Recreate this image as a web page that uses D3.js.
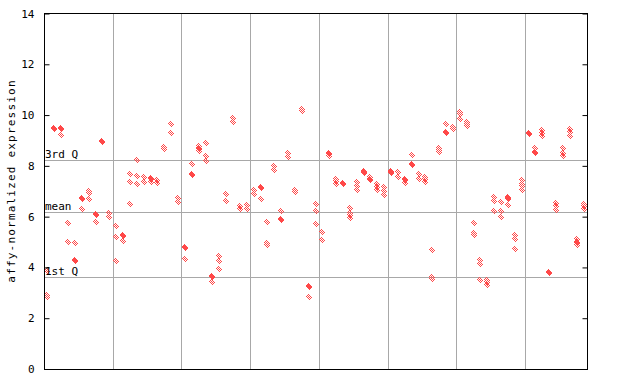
<!DOCTYPE html>
<html><head><meta charset="utf-8">
<script src="https://cdn.jsdelivr.net/npm/d3@7"></script>
<style>body{margin:0;background:#fff}svg text{font-family:"DejaVu Sans Mono",monospace}</style>
</head><body><svg id="c" width="640" height="384"></svg>
<script>
const yTicks = [0, 2, 4, 6, 8, 10, 12, 14];
const groupSizes = [10, 10, 10, 10, 10, 10, 10, 9];
const refLines = [{label: "3rd Q", v: 8.23}, {label: "mean", v: 6.2}, {label: "1st Q", v: 3.62}];
const samples = [
  [3.87, 2.90, 2.82], [9.51, 9.47], [9.51, 9.45, 9.22], [5.75, 5.00], [4.96, 4.30, 4.26],
  [6.75, 6.71, 6.30], [7.02, 6.93, 6.69], [6.09, 6.05, 5.79], [8.98, 8.94], [6.14, 5.98],
  [5.63, 5.19, 4.26], [5.26, 5.22, 5.04], [7.67, 7.36, 6.49], [8.22, 7.62, 7.29], [7.58, 7.38],
  [7.54, 7.50, 7.36], [7.45, 7.32], [8.76, 8.66], [9.64, 9.29], [6.73, 6.57],
  [4.80, 4.76, 4.33], [8.07, 7.67, 7.63], [8.79, 8.70, 8.66, 8.59], [8.89, 8.37, 8.20], [3.67, 3.63, 3.42],
  [4.46, 4.25, 3.94], [6.89, 6.61], [9.88, 9.71], [6.43, 6.30], [6.47, 6.30],
  [7.06, 6.89], [7.15, 7.11, 6.71], [5.78, 4.95, 4.87], [8.00, 7.82], [6.24, 5.92, 5.88],
  [8.50, 8.34], [7.03, 6.99], [10.22, 10.17], [3.28, 3.24, 2.83], [6.49, 6.22, 5.71],
  [5.39, 5.08], [8.50, 8.45, 8.40], [7.50, 7.40, 7.28], [7.31, 7.27], [6.34, 6.14, 6.05, 5.94],
  [7.36, 7.20, 7.06], [7.80, 7.74, 7.70], [7.55, 7.49, 7.45], [7.29, 7.18, 7.06], [7.15, 7.00, 6.86],
  [7.80, 7.76, 7.70], [7.74, 7.56], [7.50, 7.46, 7.32], [8.42, 8.09, 8.03], [7.67, 7.49],
  [7.56, 7.50, 7.38], [4.68, 3.62, 3.54], [8.70, 8.64, 8.56], [9.64, 9.33, 9.29], [9.52, 9.45],
  [10.11, 10.04, 9.84], [9.74, 9.65, 9.55], [5.75, 5.35, 5.26], [4.30, 4.14, 3.51], [3.51, 3.42, 3.32],
  [6.79, 6.60, 6.22], [6.57, 6.22, 5.98], [6.79, 6.75, 6.71, 6.45], [5.28, 5.12, 4.72], [7.45, 7.29, 7.19, 7.06],
  [9.28, 9.24], [8.72, 8.56, 8.52], [9.42, 9.30, 9.19], [3.82, 3.78], [6.53, 6.40, 6.27],
  [8.70, 8.50, 8.39], [9.46, 9.33, 9.19], [5.10, 5.00, 4.96, 4.90], [6.50, 6.40, 6.30]
];

const svg = d3.select("#c");
const L = 44, R = 587, T = 13, B = 369;
const nSamples = d3.sum(groupSizes);
const x = d3.scaleLinear().domain([0, nSamples]).range([L, R]);
const y = d3.scaleLinear().domain([0, 14]).range([B, T + 0.5]);

const defs = svg.append("defs");
const pat = defs.append("pattern").attr("id", "chk").attr("patternUnits", "userSpaceOnUse")
  .attr("width", 2).attr("height", 2);
pat.append("rect").attr("x", 0).attr("y", 0).attr("width", 1).attr("height", 1).attr("fill", "#ff4848");
pat.append("rect").attr("x", 1).attr("y", 1).attr("width", 1).attr("height", 1).attr("fill", "#ff4848");

// group separators
const bounds = d3.cumsum(groupSizes).slice(0, -1);
svg.append("g").selectAll("line").data(bounds).join("line")
  .attr("x1", d => Math.round(x(d)) + 0.5).attr("x2", d => Math.round(x(d)) + 0.5)
  .attr("y1", T).attr("y2", B).attr("stroke", "#a8a8a8").attr("stroke-width", 1);

// reference lines
svg.append("g").selectAll("line").data(refLines).join("line")
  .attr("x1", L).attr("x2", R)
  .attr("y1", d => Math.round(y(d.v)) + 0.5).attr("y2", d => Math.round(y(d.v)) + 0.5)
  .attr("stroke", "#a8a8a8").attr("stroke-width", 1);

// points
const pts = [];
samples.forEach((vals, i) => vals.forEach(v => pts.push({i, v})));
svg.append("g").selectAll("path").data(pts).join("path")
  .attr("transform", d => `translate(${Math.round(x(d.i + 0.5))},${Math.round(y(d.v))})`)
  .attr("d", "M0,-3.5L3.5,0L0,3.5L-3.5,0Z")
  .attr("fill", "url(#chk)").attr("shape-rendering", "crispEdges");

// reference labels
svg.append("g").selectAll("text").data(refLines).join("text")
  .attr("x", L + 1).attr("y", d => Math.round(y(d.v)) - 2)
  .attr("font-size", 11).attr("fill", "#000").text(d => d.label);

// frame
svg.append("rect").attr("x", L + 0.5).attr("y", T + 0.5).attr("width", R - L).attr("height", B - T)
  .attr("fill", "none").attr("stroke", "#000").attr("stroke-width", 1);

// axes with inward ticks
const yl = svg.append("g").attr("transform", `translate(${L + 0.5},0)`)
  .call(d3.axisLeft(y).tickValues(yTicks).tickSizeInner(-5).tickSizeOuter(0).tickPadding(10).tickFormat(d3.format("d")));
yl.select(".domain").remove();
yl.selectAll("text").attr("font-size", 11).attr("font-family", "DejaVu Sans Mono").attr("fill", "#000");
yl.selectAll("line").attr("stroke", "#000");
const yr = svg.append("g").attr("transform", `translate(${R + 0.5},0)`)
  .call(d3.axisRight(y).tickValues(yTicks).tickSizeInner(-5).tickSizeOuter(0).tickFormat(""));
yr.select(".domain").remove();
yr.selectAll("line").attr("stroke", "#000");

svg.append("text").attr("transform", `translate(15,${(T + B) / 2 - 10}) rotate(-90)`)
  .attr("text-anchor", "middle").attr("font-size", 11).attr("letter-spacing", 1.2)
  .text("affy-normalized expression");
</script></body></html>
